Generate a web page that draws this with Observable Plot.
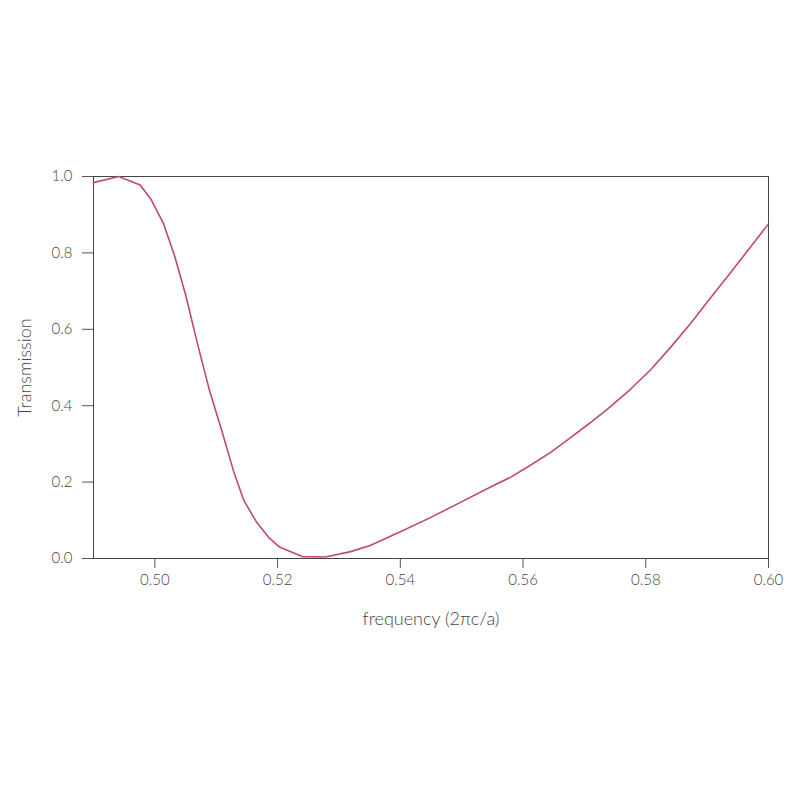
<!DOCTYPE html>
<html>
<head>
<meta charset="utf-8">
<script src="https://cdn.jsdelivr.net/npm/d3@7"></script>
<script src="https://cdn.jsdelivr.net/npm/@observablehq/plot@0.6"></script>
<style>
  html, body { margin: 0; padding: 0; background: #fff; }
  #chart svg { display: block; }
</style>
</head>
<body>
<div id="chart"></div>
<script>
const frequency = [0.4900, 0.4941, 0.4976, 0.4993, 0.5004, 0.5014, 0.5032, 0.5050, 0.5069, 0.5089,
  0.5109, 0.5128, 0.5145, 0.5165, 0.5185, 0.5203, 0.5240, 0.5278, 0.5319, 0.5351,
  0.5400, 0.5449, 0.5498, 0.5547, 0.5580, 0.5612, 0.5645, 0.5677, 0.5710, 0.5743,
  0.5775, 0.5808, 0.5840, 0.5873, 0.5905, 0.5938, 0.5971, 0.6000];
const transmission = [0.984, 1.000, 0.978, 0.942, 0.908, 0.877, 0.793, 0.691, 0.565, 0.440,
  0.335, 0.230, 0.152, 0.097, 0.056, 0.030, 0.005, 0.004, 0.018, 0.034,
  0.070, 0.107, 0.147, 0.187, 0.213, 0.244, 0.278, 0.316, 0.356, 0.398,
  0.443, 0.494, 0.552, 0.615, 0.681, 0.748, 0.816, 0.876];
const xTicks = [0.50, 0.52, 0.54, 0.56, 0.58, 0.60];
const yTicks = [0.0, 0.2, 0.4, 0.6, 0.8, 1.0];
const xLabel = "frequency (2πc/a)";
const yLabel = "Transmission";

const data = frequency.map((f, i) => ({f, t: transmission[i]}));

const chart = Plot.plot({
  width: 800,
  height: 800,
  marginLeft: 93,
  marginRight: 32,
  marginTop: 176,
  marginBottom: 242,
  style: {fontFamily: "Lato, 'Open Sans', sans-serif", fontSize: "15px", fontWeight: 300, color: "#444", background: "#fff"},
  x: {domain: [0.49, 0.60]},
  y: {domain: [0, 1]},
  marks: [
    Plot.frame({stroke: "#444", strokeWidth: 1}),
    Plot.axisX({ticks: xTicks, tickFormat: d3.format(".2f"), tickSize: 10, tickPadding: 6, stroke: "#555",
      fontSize: 15, fill: "#444", label: null}),
    Plot.axisY({ticks: yTicks, tickFormat: d3.format(".1f"), tickSize: 11, tickPadding: 10, stroke: "#555",
      fontSize: 15, fill: "#444", label: null}),
    Plot.text([xLabel], {text: d => d, frameAnchor: "bottom", dy: 61, lineAnchor: "middle", textAnchor: "middle",
      fontSize: 18, fill: "#444", fontWeight: 300}),
    Plot.text([yLabel], {text: d => d, frameAnchor: "left", rotate: -90, dx: -68, lineAnchor: "middle", textAnchor: "middle",
      fontSize: 18, fill: "#444", fontWeight: 300}),
    Plot.line(data, {x: "f", y: "t", stroke: "#c0467c", strokeWidth: 1.6})
  ]
});
document.getElementById("chart").appendChild(chart);
</script>
</body>
</html>
